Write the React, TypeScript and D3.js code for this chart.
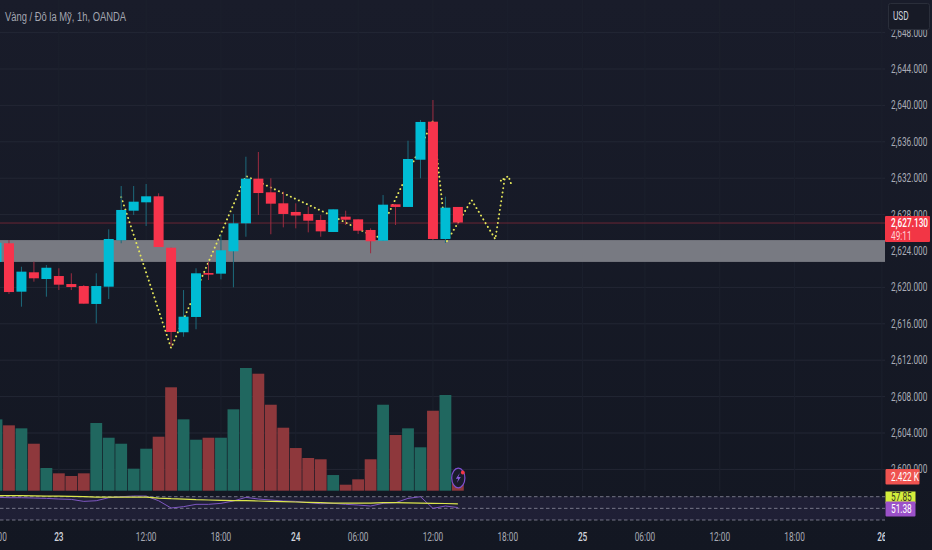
import React, { useEffect, useRef } from 'react';
import * as d3 from 'd3';

const opens = [2622.8, 2624.85, 2619.53, 2621.66, 2620.92, 2621.25, 2620.37, 2620.15, 2618.18, 2620.08, 2625.18, 2628.43, 2629.35, 2630.01, 2624.36, 2615.07, 2616.75, 2621.58, 2621.51, 2623.97, 2627.04, 2631.95, 2630.45, 2629.24, 2628.29, 2628.07, 2627.41, 2626.09, 2627.77, 2627.48, 2626.31, 2625.13, 2629.13, 2628.84, 2634.03, 2638.21, 2625.32, 2628.84];
const highs = [2625.2, 2625.21, 2622.27, 2622.82, 2622.46, 2622.1, 2621.55, 2620.26, 2621.55, 2626.38, 2631.14, 2631.14, 2631.36, 2630.34, 2624.36, 2619.71, 2622.1, 2622.82, 2625.76, 2628.07, 2634.36, 2634.88, 2631.99, 2630.52, 2629.24, 2628.87, 2627.96, 2628.58, 2628.43, 2627.48, 2626.49, 2630.15, 2629.13, 2636.12, 2638.4, 2640.59, 2629.97, 2628.84];
const lows = [2622.0, 2619.27, 2617.88, 2620.63, 2618.98, 2619.71, 2619.71, 2618.21, 2616.05, 2618.73, 2624.85, 2627.96, 2626.75, 2624.44, 2613.48, 2614.58, 2615.4, 2620.81, 2620.89, 2620.01, 2625.57, 2627.96, 2625.84, 2626.6, 2626.49, 2626.05, 2625.57, 2626.09, 2626.86, 2625.87, 2623.75, 2625.13, 2626.86, 2628.84, 2631.99, 2625.21, 2624.88, 2626.9];
const closes = [2624.9, 2619.49, 2621.73, 2621.0, 2622.16, 2620.3, 2620.04, 2618.21, 2620.15, 2625.32, 2628.51, 2629.42, 2630.01, 2624.44, 2615.1, 2616.78, 2621.55, 2621.4, 2624.08, 2627.04, 2631.95, 2630.37, 2629.2, 2628.07, 2627.9, 2627.33, 2626.16, 2628.58, 2627.44, 2626.23, 2625.07, 2629.09, 2628.84, 2634.11, 2638.18, 2625.32, 2628.76, 2627.13];
const volumes = [12.6, 11.55, 11.02, 8.3, 4.01, 3.07, 2.6, 3.07, 11.96, 9.36, 8.3, 3.89, 7.42, 9.54, 18.27, 12.61, 9.01, 9.36, 9.36, 14.38, 21.68, 20.67, 15.19, 11.13, 7.54, 5.78, 5.55, 2.77, 1.06, 2.01, 5.55, 15.19, 9.84, 11.02, 7.67, 14.13, 16.91, 2.422];
const rsi = [68.9, 68.3, 68.3, 67.7, 67.1, 66, 65.4, 62, 63.1, 68.3, 70, 71.1, 71.1, 63.1, 50.6, 52.9, 56.9, 56.9, 58.6, 62.6, 68.9, 66, 64.3, 62.6, 62, 59.7, 58, 58.6, 56.9, 55.7, 54, 58.6, 59.7, 67.1, 70, 50, 54, 51.38];
const rsiMa = [71.7, 71.7, 71.7, 71.4, 71.1, 70.9, 70.6, 70, 69.4, 69.1, 69.4, 69.4, 69.4, 67.7, 66.6, 66, 64.9, 64.3, 63.7, 63.1, 63.1, 62.6, 62, 61.4, 60.9, 60.3, 59.7, 59.1, 59.1, 59.1, 59.1, 59.7, 59.7, 59.4, 59.1, 58.6, 58.3, 57.85];

// hand drawn zigzag
const zigzagBars = [10, 14, 20, 26.6, 30.5, 35, 36.1, 38.1, 40, 40.75, 40.4, 41.05, 41.35];
const zigzagPrices = [2629.93, 2613.34, 2632.24, 2628.07, 2625.43, 2638.3, 2625.02, 2629.6, 2625.3, 2631.9, 2631.7, 2632.24, 2631.07];

const priceTicks = [2648, 2644, 2640, 2636, 2632, 2628, 2624, 2620, 2616, 2612, 2608, 2604, 2600];
const timeBars = [0, 5, 12, 18, 24, 29, 35, 41, 47, 52, 58, 64, 71];
const timeLabels = ['18:00', '23', '12:00', '18:00', '24', '06:00', '12:00', '18:00', '25', '06:00', '12:00', '18:00', '26'];
const dayLabels = ['23', '24', '25', '26'];
const rsiLevels = [70, 50, 30];
const zoneTop = 2625.2;
const zoneBottom = 2622.8;
const lastPrice = 2627.13;

const UP = '#00bcd4';
const DOWN = '#f7344c';

export default function App() {
  const svgRef = useRef<SVGSVGElement>(null);

  useEffect(() => {
    if (!svgRef.current) return;
    const svg = d3.select(svgRef.current);
    svg.selectAll('*').remove();

    const paneRight = 885;
    const x = d3.scaleLinear().domain([0, 70]).range([-3.5, 869.4]);
    const y = d3.scaleLinear().domain([2644, 2604]).range([69, 433]);
    const volY = d3.scaleLinear().domain([0, 21.68]).range([490.7, 368]);
    const rsiY = d3.scaleLinear().domain([30, 70]).range([520, 496.7]);
    const bars = d3.range(closes.length);

    const defs = svg.append('defs');
    const grad = defs.append('linearGradient').attr('id', 'bg').attr('x1', 0).attr('x2', 0).attr('y1', 0).attr('y2', 1);
    grad.append('stop').attr('offset', '0%').attr('stop-color', '#191c2a');
    grad.append('stop').attr('offset', '100%').attr('stop-color', '#131722');
    defs.append('clipPath').attr('id', 'pane').append('rect').attr('width', paneRight).attr('height', 550);

    svg.append('rect').attr('width', 932).attr('height', 550).attr('fill', 'url(#bg)');

    const pane = svg.append('g').attr('clip-path', 'url(#pane)');

    // Grid
    pane.selectAll('.hgrid').data(priceTicks).enter().append('line')
      .attr('x1', 0).attr('x2', paneRight)
      .attr('y1', d => y(d)).attr('y2', d => y(d))
      .attr('stroke', '#232734').attr('stroke-width', 1);
    pane.selectAll('.vgrid').data(timeBars).enter().append('line')
      .attr('x1', d => x(d)).attr('x2', d => x(d))
      .attr('y1', 0).attr('y2', 491)
      .attr('stroke', '#1c202d').attr('stroke-width', 1);

    // Zone
    pane.append('rect')
      .attr('x', 0).attr('width', paneRight)
      .attr('y', y(zoneTop)).attr('height', y(zoneBottom) - y(zoneTop))
      .attr('fill', '#787a82');

    // Last price line
    pane.append('line')
      .attr('x1', 0).attr('x2', paneRight)
      .attr('y1', y(lastPrice) + 0.5).attr('y2', y(lastPrice) + 0.5)
      .attr('stroke', '#6b2635').attr('stroke-width', 1);

    // Volume
    pane.selectAll('.vol').data(bars).enter().append('rect')
      .attr('x', i => x(i) - 5.9).attr('width', 11.8)
      .attr('y', i => volY(volumes[i]))
      .attr('height', i => volY(0) - volY(volumes[i]))
      .attr('fill', i => closes[i] >= opens[i] ? '#20675f' : '#8e383c');

    // Zigzag
    const zig = d3.line<number>().x(i => x(zigzagBars[i])).y(i => y(zigzagPrices[i]));
    pane.append('path')
      .attr('d', zig(d3.range(zigzagBars.length)))
      .attr('fill', 'none')
      .attr('stroke', '#e6e85a')
      .attr('stroke-width', 1.9)
      .attr('stroke-linecap', 'round')
      .attr('stroke-dasharray', '0.1 4.3');

    // Candles
    const candle = pane.selectAll('.candle').data(bars).enter().append('g');
    candle.append('line')
      .attr('x1', i => x(i)).attr('x2', i => x(i))
      .attr('y1', i => y(highs[i])).attr('y2', i => y(lows[i]))
      .attr('stroke', i => closes[i] >= opens[i] ? '#1d6a7c' : '#9c2c40')
      .attr('stroke-width', 1);
    candle.append('rect')
      .attr('x', i => x(i) - 5).attr('width', 10)
      .attr('y', i => y(Math.max(opens[i], closes[i])))
      .attr('height', i => Math.max(1.5, Math.abs(y(opens[i]) - y(closes[i]))))
      .attr('fill', i => closes[i] >= opens[i] ? UP : DOWN);

    // RSI pane
    pane.append('rect')
      .attr('x', 0).attr('width', paneRight)
      .attr('y', rsiY(70)).attr('height', rsiY(30) - rsiY(70))
      .attr('fill', '#7e57c2').attr('fill-opacity', 0.12);
    pane.selectAll('.lvl').data(rsiLevels).enter().append('line')
      .attr('x1', 0).attr('x2', paneRight)
      .attr('y1', d => rsiY(d)).attr('y2', d => rsiY(d))
      .attr('stroke', '#8a8a9c').attr('stroke-width', 0.8)
      .attr('stroke-dasharray', '3.5 2.5');
    const rsiLine = d3.line<number>().x(i => x(i)).curve(d3.curveLinear);
    pane.append('path')
      .attr('d', rsiLine.y(i => rsiY(rsi[i]))(bars))
      .attr('fill', 'none').attr('stroke', '#7e57c2').attr('stroke-width', 1);
    pane.append('path')
      .attr('d', rsiLine.y(i => rsiY(rsiMa[i]))(bars))
      .attr('fill', 'none').attr('stroke', '#dce64c').attr('stroke-width', 1.2);

    // Lightning badge
    const badge = svg.append('g').attr('transform', 'translate(458.3,478)');
    badge.append('ellipse').attr('rx', 6.6).attr('ry', 9.8)
      .attr('fill', '#1a1c2c').attr('stroke', '#7e4fd0').attr('stroke-width', 1.2);
    badge.append('path').attr('d', 'M1.5,-5 L-2.5,0.8 L0,0.8 L-1.5,5 L2.5,-1 L0,-1 Z').attr('fill', '#8a5ce0');
    badge.append('circle').attr('cx', 4.5).attr('cy', -5.5).attr('r', 1.9).attr('fill', '#f23645');

    const label = (g: any, text: string, tx: number, ty: number, fill: string, sx = 0.69, weight = 400, anchor = 'start', size = 12) =>
      g.append('text')
        .attr('transform', `translate(${tx},${ty}) scale(${sx},1)`)
        .attr('text-anchor', anchor)
        .attr('dominant-baseline', 'central')
        .style('font-family', 'Roboto, sans-serif')
        .style('font-size', `${size}px`)
        .style('font-weight', weight)
        .attr('fill', fill)
        .text(text);

    // Time axis
    const axisClip = svg.append('g').attr('clip-path', 'url(#pane)');
    timeBars.forEach((b, i) => {
      const isDay = dayLabels.includes(timeLabels[i]);
      label(axisClip, timeLabels[i], x(b), 537, isDay ? '#d1d4dc' : '#a6a9b3', 0.69, isDay ? 500 : 400, 'middle');
    });

    // Price axis labels
    priceTicks.forEach(t => {
      label(svg, d3.format(',.3f')(t), 891, y(t), '#a9acb6');
    });

    // Title
    svg.append('text')
      .attr('x', 5).attr('y', 21)
      .attr('textLength', 121).attr('lengthAdjust', 'spacingAndGlyphs')
      .style('font-family', '"Liberation Sans", Arial, sans-serif')
      .style('font-size', '12px')
      .attr('fill', '#a3a6b0')
      .text('Vàng / Đô la Mỹ, 1h, OANDA');

    // USD box
    svg.append('rect').attr('x', 888.5).attr('y', 3.5).attr('width', 41).attr('height', 26).attr('rx', 2)
      .attr('fill', '#171a26').attr('stroke', '#2a2e3a');
    label(svg, 'USD', 893, 16, '#d1d4dc');

    // Last price tag
    svg.append('rect').attr('x', 885).attr('y', 216).attr('width', 45).attr('height', 26).attr('rx', 1).attr('fill', '#f23645');
    label(svg, '2,627.130', 891, 223, '#ffffff', 0.69, 500);
    label(svg, '49:11', 891, 236, '#ffd0d5');

    // Volume tag
    svg.append('rect').attr('x', 885.5).attr('y', 469).attr('width', 34).attr('height', 15.5).attr('rx', 1).attr('fill', '#ef5350');
    label(svg, '2.422 K', 891, 477, '#ffffff');

    // RSI tags
    const maTag = svg.append('g');
    maTag.append('rect').attr('x', 885.5).attr('y', 491.5).attr('width', 30).attr('height', 12).attr('fill', '#d4ee3c');
    label(maTag, '57.85', 891, 497, '#3a3a20');
    svg.append('rect').attr('x', 885.5).attr('y', 501.5).attr('width', 30).attr('height', 15).attr('rx', 1).attr('fill', '#9b51c9');
    label(svg, '51.38', 891, 509, '#ffffff');
  }, []);

  return (
    <svg
      ref={svgRef}
      width={932}
      height={550}
      style={{ position: 'absolute', left: 0, top: 0, display: 'block' }}
    />
  );
}
